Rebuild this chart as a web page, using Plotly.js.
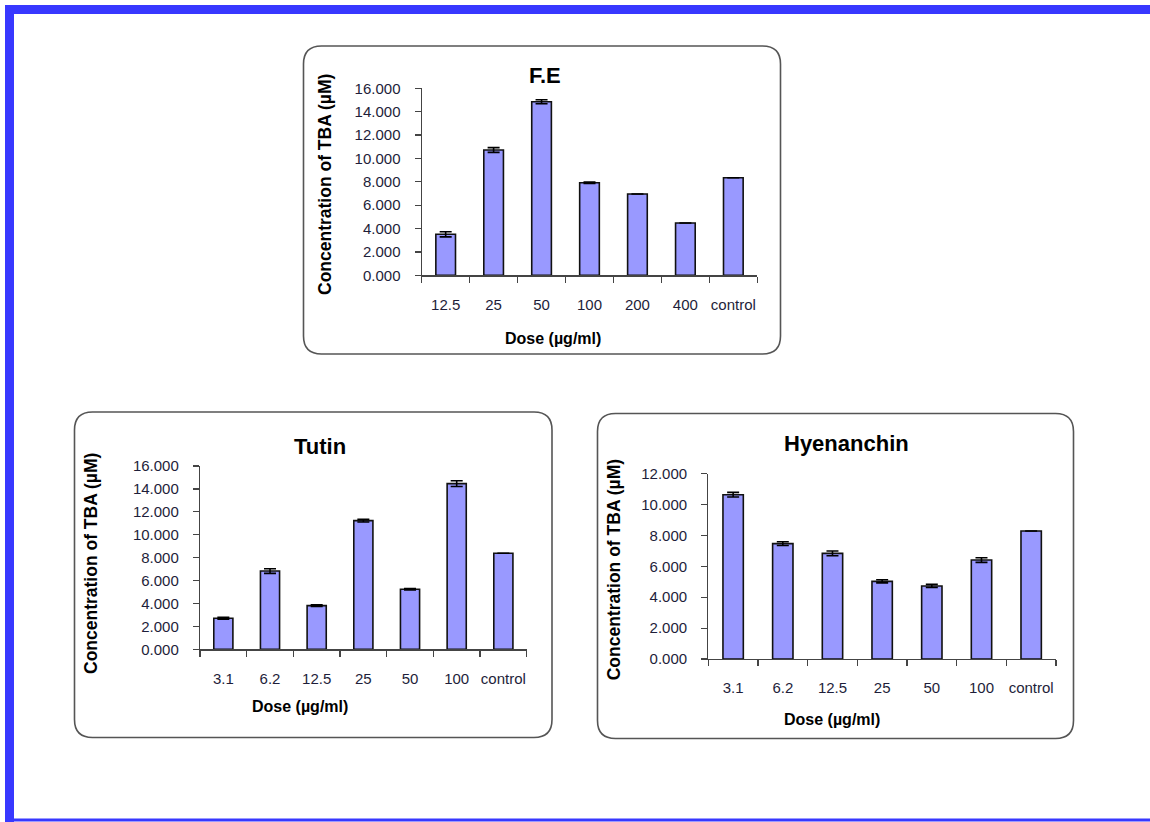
<!DOCTYPE html>
<html>
<head>
<meta charset="utf-8">
<script src="https://cdn.plot.ly/plotly-3.0.1.min.js"></script>
<style>
  html, body { margin: 0; padding: 0; background: #ffffff; }
  #chart { width: 1150px; height: 822px; }
</style>
</head>
<body>
<div id="chart"></div>
<script>
// ---- data ----
const feDoses = ['12.5', '25', '50', '100', '200', '400', 'control'];
const feValues = [3.51, 10.72, 14.85, 7.92, 6.96, 4.47, 8.35];
const feErrors = [0.22, 0.20, 0.17, 0.06, 0, 0, 0];

const tutinDoses = ['3.1', '6.2', '12.5', '25', '50', '100', 'control'];
const tutinValues = [2.71, 6.83, 3.81, 11.23, 5.24, 14.46, 8.38];
const tutinErrors = [0.08, 0.20, 0.07, 0.12, 0.06, 0.25, 0];

const hyenDoses = ['3.1', '6.2', '12.5', '25', '50', '100', 'control'];
const hyenValues = [10.64, 7.47, 6.84, 5.03, 4.73, 6.41, 8.29];
const hyenErrors = [0.15, 0.12, 0.15, 0.10, 0.10, 0.15, 0];

const panelTitles = ['F.E', 'Tutin', 'Hyenanchin'];
const xTitle = 'Dose (µg/ml)';
const yTitle = 'Concentration of TBA (µM)';

// ---- layout helpers (pixel -> paper) ----
const W = 1150, H = 822;
const px = x => x / W;
const py = y => 1 - y / H;

const FONT = '"Liberation Sans", Arial, sans-serif';
const tickColor = '#1e1e3a';
const barColor = '#9999ff';

function barTrace(x, y, err, xa, ya) {
  return {
    type: 'bar', x: x, y: y, xaxis: xa, yaxis: ya,
    marker: { color: barColor, line: { color: '#111111', width: 1.6 } },
    error_y: { type: 'data', array: err, visible: true, color: '#000000', thickness: 1.6, width: 6 },
    hoverinfo: 'x+y', showlegend: false
  };
}

function xAxis(x0, x1, anchor) {
  return {
    domain: [px(x0), px(x1)], anchor: anchor, type: 'category',
    showline: true, linecolor: '#444444', linewidth: 1.2,
    ticks: 'outside', ticklen: 6, tickcolor: '#444444', tickwidth: 1.2,
    tickson: 'boundaries', showgrid: false, zeroline: false, tickangle: 0,
    tickfont: { family: FONT, size: 15, color: tickColor },
    ticklabelstandoff: 15, fixedrange: true
  };
}
function yAxis(yTop, yBot, maxV, anchor) {
  return {
    domain: [py(yBot), py(yTop)], anchor: anchor, range: [0, maxV],
    dtick: 2, tickformat: '.3f',
    showline: true, linecolor: '#444444', linewidth: 1.2,
    ticks: 'outside', ticklen: 6, tickcolor: '#444444', tickwidth: 1.2,
    showgrid: false, zeroline: false,
    tickfont: { family: FONT, size: 15, color: tickColor },
    ticklabelstandoff: 11, fixedrange: true
  };
}

function roundRect(x0, y0, x1, y1, r) {
  const P = (x, y) => px(x) + ',' + py(y);
  return 'M' + P(x0 + r, y0) + ' L' + P(x1 - r, y0) + ' Q' + P(x1, y0) + ' ' + P(x1, y0 + r) +
    ' L' + P(x1, y1 - r) + ' Q' + P(x1, y1) + ' ' + P(x1 - r, y1) +
    ' L' + P(x0 + r, y1) + ' Q' + P(x0, y1) + ' ' + P(x0, y1 - r) +
    ' L' + P(x0, y0 + r) + ' Q' + P(x0, y0) + ' ' + P(x0 + r, y0) + ' Z';
}

function ann(text, x, y, size, angle) {
  return {
    text: text, xref: 'paper', yref: 'paper', x: px(x), y: py(y),
    xanchor: 'center', yanchor: 'middle', showarrow: false, textangle: angle || 0,
    font: { family: FONT, size: size, color: '#000000', weight: 'bold' }
  };
}

const data = [
  barTrace(feDoses, feValues, feErrors, 'x', 'y'),
  barTrace(tutinDoses, tutinValues, tutinErrors, 'x2', 'y2'),
  barTrace(hyenDoses, hyenValues, hyenErrors, 'x3', 'y3')
];

const blue = '#3838ff';
const layout = {
  width: W, height: H,
  margin: { l: 0, r: 0, t: 0, b: 0, pad: 0 },
  paper_bgcolor: '#ffffff', plot_bgcolor: 'rgba(0,0,0,0)',
  bargap: 0.59, showlegend: false,
  xaxis: xAxis(421.7, 757.3, 'y'),
  yaxis: yAxis(88.3, 275.3, 16, 'x'),
  xaxis2: xAxis(200, 526.7, 'y2'),
  yaxis2: yAxis(466, 649.3, 16, 'x2'),
  xaxis3: xAxis(708.3, 1056, 'y3'),
  yaxis3: yAxis(473.7, 659, 12, 'x3'),
  shapes: [
    // blue frame
    { type: 'rect', xref: 'paper', yref: 'paper', x0: px(5), x1: px(1150), y0: py(14), y1: py(5), fillcolor: blue, line: { width: 0 }, layer: 'below' },
    { type: 'rect', xref: 'paper', yref: 'paper', x0: px(5), x1: px(14), y0: py(822), y1: py(5), fillcolor: blue, line: { width: 0 }, layer: 'below' },
    { type: 'rect', xref: 'paper', yref: 'paper', x0: px(5), x1: px(1150), y0: py(821.5), y1: py(818.5), fillcolor: blue, line: { width: 0 }, layer: 'below' },
    // rounded panel boxes
    { type: 'path', xref: 'paper', yref: 'paper', path: roundRect(303.5, 46, 780.5, 354, 18), line: { color: '#555555', width: 1.6 }, layer: 'below' },
    { type: 'path', xref: 'paper', yref: 'paper', path: roundRect(74.5, 412, 552, 737.5, 18), line: { color: '#555555', width: 1.6 }, layer: 'below' },
    { type: 'path', xref: 'paper', yref: 'paper', path: roundRect(597.5, 413.5, 1073.5, 738.5, 18), line: { color: '#555555', width: 1.6 }, layer: 'below' }
  ],
  annotations: [
    ann(panelTitles[0], 544.7, 75.7, 22),
    ann(panelTitles[1], 319.7, 446.7, 22),
    ann(panelTitles[2], 846.7, 443.3, 22),
    ann(xTitle, 553, 338.3, 16),
    ann(xTitle, 300, 706.7, 16),
    ann(xTitle, 832.3, 719, 16),
    ann(yTitle, 325, 185, 17.5, -90),
    ann(yTitle, 91.7, 563.3, 17.5, -90),
    ann(yTitle, 614.3, 570, 17.5, -90)
  ]
};

Plotly.newPlot('chart', data, layout, { displayModeBar: false, staticPlot: true });
</script>
</body>
</html>
